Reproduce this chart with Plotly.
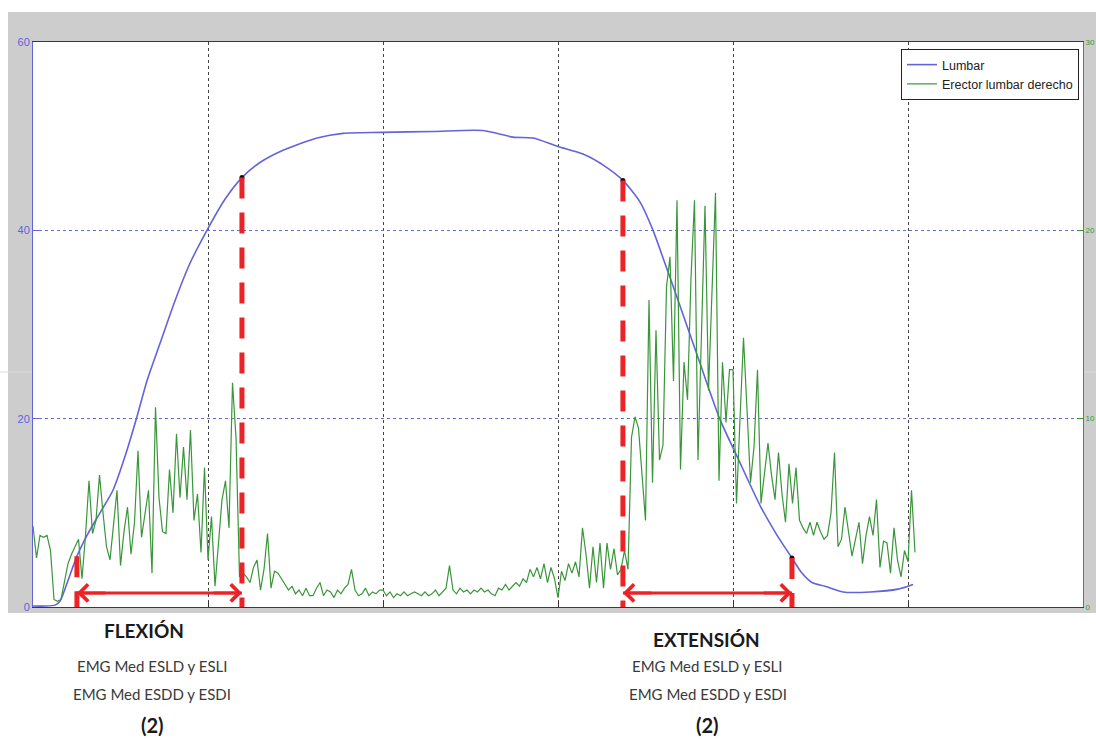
import numpy as np
import plotly.graph_objects as go

# ---------------- data ----------------
# Lumbar angle (left axis, degrees) sampled at irregular times
lumbar_t = [0.000, 0.069, 0.126, 0.154, 0.194, 0.251, 0.314, 0.383, 0.457, 0.526,
            0.594, 0.651, 0.726, 0.811, 0.897, 0.994, 1.097, 1.194, 1.297, 1.429,
            1.623, 1.771, 1.994, 2.286, 2.571, 2.743, 2.857, 3.000, 3.143, 3.269,
            3.371, 3.469, 3.543, 3.611, 3.680, 3.811, 3.926, 4.023, 4.154, 4.246,
            4.337, 4.394, 4.451, 4.526, 4.629, 4.783, 4.943, 5.029]
lumbar_v = [0.1, 0.1, 0.2, 0.6, 2.5, 5.4, 7.8, 10.0, 12.4, 16.0,
            20.2, 24.0, 28.0, 32.5, 36.5, 40.0, 43.3, 45.6, 47.2, 48.5,
            49.8, 50.3, 50.4, 50.5, 50.6, 49.9, 49.8, 48.9, 48.1, 46.8,
            45.3, 43.0, 40.0, 36.5, 32.9, 25.9, 19.9, 16.0, 10.8, 7.8,
            5.2, 3.6, 2.6, 2.2, 1.6, 1.6, 1.9, 2.4]

# Erector lumbar derecho EMG (right axis), one value every 0.02 time units
emg_step = 0.02
emg_v = [
    4.3, 2.6, 3.8, 3.7, 3.8, 3.0, 0.4, 0.3, 0.4, 1.4,
    2.3, 2.8, 3.2, 3.6, 1.5, 3.8, 6.7, 3.9, 4.6, 7.0,
    5.0, 3.2, 2.5, 4.5, 6.2, 2.2, 4.0, 5.3, 2.8, 4.5,
    8.3, 3.7, 5.0, 6.2, 1.8, 10.6, 5.8, 4.0, 3.9, 7.3,
    5.0, 9.2, 5.8, 8.5, 5.7, 9.4, 4.6, 6.0, 2.9, 7.4,
    2.5, 4.8, 1.1, 3.5, 5.7, 6.7, 4.2, 11.9, 9.0, 1.6,
    1.8, 1.6, 1.3, 2.1, 2.5, 0.9, 2.0, 3.9, 1.0, 1.9,
    1.8, 1.5, 1.2, 0.9, 1.1, 0.7, 0.9, 0.6, 1.0, 0.6,
    0.6, 1.0, 1.3, 0.6, 0.9, 0.8, 0.5, 0.9, 0.7, 1.0,
    1.2, 2.0, 0.9, 0.6, 0.7, 1.0, 0.6, 0.8, 0.7, 0.9,
    0.9, 0.6, 0.8, 0.5, 0.7, 0.6, 0.8, 0.6, 0.7, 0.8,
    0.7, 0.6, 0.8, 0.6, 0.7, 0.9, 0.6, 0.8, 1.0, 2.2,
    0.9, 0.7, 1.0, 0.8, 0.9, 0.7, 0.9, 0.8, 1.0, 0.8,
    0.9, 0.7, 0.6, 1.0, 0.9, 1.2, 0.9, 1.1, 1.3, 1.1,
    1.5, 1.3, 2.0, 1.6, 2.1, 1.5, 2.3, 1.3, 2.1, 1.5,
    0.5, 1.9, 1.4, 2.3, 1.8, 2.4, 1.6, 4.2, 2.8, 1.0,
    3.2, 1.3, 3.4, 1.0, 3.4, 2.0, 3.1, 1.7, 2.0, 3.0,
    2.0, 9.0, 10.1, 9.5, 7.0, 4.6, 16.3, 6.6, 14.7, 7.8,
    8.6, 17.0, 18.6, 12.0, 21.6, 7.3, 13.0, 11.0, 17.5, 21.6,
    7.8, 15.0, 21.3, 11.5, 17.0, 22.0, 6.7, 13.0, 9.8, 12.6,
    12.6, 5.5, 10.0, 14.3, 10.5, 6.6, 8.5, 12.6, 5.5, 7.0,
    8.7, 7.0, 5.7, 8.2, 6.0, 4.5, 7.6, 5.5, 7.4, 4.6,
    4.2, 3.9, 4.5, 3.8, 4.5, 4.0, 3.6, 3.8, 5.0, 8.2,
    3.2, 3.6, 5.3, 4.0, 2.7, 3.6, 4.5, 2.3, 3.8, 4.8,
    3.8, 5.7, 2.1, 3.5, 3.4, 1.8, 4.2, 2.5, 1.6, 3.0,
    2.4, 6.2, 2.9,
]
emg_t = np.arange(len(emg_v)) * emg_step

# phase markers (start/end of flexion and extension)
event_t = [0.251, 1.194, 3.371, 4.337]
arrow_level = 1.5
phase_names = ["FLEXIÓN", "EXTENSIÓN"]
phase_title_x = [0.634, 3.851]
phase_sub_x = [0.68, 3.857]
sub_lines = ["EMG Med ESLD y ESLI", "EMG Med ESDD y ESDI", "(2)"]

left_ticks = [0, 20, 40, 60]
right_ticks = [0, 10, 20, 30]
x_grid = [1, 2, 3, 4, 5]

# ---------------- figure ----------------
W, H = 1096, 740
ML, MR, MT, MB = 33, 13, 42, 133
PW, PH = W - ML - MR, H - MT - MB

BLUE = "#6363dc"
GREEN = "#3a963a"
RED = "#ec2326"

fig = go.Figure()
fig.add_trace(go.Scatter(x=lumbar_t, y=lumbar_v, mode="lines", name="Lumbar",
                         line=dict(color=BLUE, width=1.6, shape="spline", smoothing=0.7),
                         yaxis="y"))
fig.add_trace(go.Scatter(x=emg_t, y=emg_v, mode="lines", name="Erector lumbar derecho",
                         line=dict(color=GREEN, width=1.2), yaxis="y2"))

def px_x(p):
    return (p - ML) / PW

def px_y(p):
    return (H - MB - p) / PH

# gray window background around the axes, white axes area on top of it
fig.add_shape(type="rect", xref="paper", yref="paper",
              x0=px_x(8), x1=px_x(1100), y0=px_y(613), y1=px_y(12),
              fillcolor="#cdcdcd", line=dict(width=0), layer="below")
fig.add_shape(type="line", xref="paper", yref="paper",
              x0=px_x(0), x1=px_x(1096), y0=px_y(372), y1=px_y(372),
              line=dict(color="#dadada", width=1), layer="below")
fig.add_shape(type="rect", xref="paper", yref="paper",
              x0=0, x1=1, y0=0, y1=1,
              fillcolor="white", line=dict(width=0), layer="below")

event_top = np.interp(event_t, lumbar_t, lumbar_v)

# red dashed vertical lines from the curve down to zero
for t, top in zip(event_t, event_top):
    fig.add_shape(type="line", xref="x", yref="y", x0=t, x1=t, y0=top, y1=0,
                  line=dict(color=RED, width=5, dash="21px,14px"))

# black dots on the curve
fig.add_trace(go.Scatter(x=event_t[1:], y=event_top[1:], mode="markers",
                         marker=dict(color="#111111", size=5), showlegend=False,
                         hoverinfo="skip", yaxis="y"))

# double-headed arrows
for k in range(2):
    a, b = event_t[2 * k], event_t[2 * k + 1]
    fig.add_shape(type="line", xref="x", yref="y", x0=a, x1=b,
                  y0=arrow_level, y1=arrow_level, line=dict(color=RED, width=3))
    for end, off in ((a, 30), (b, -30)):
        fig.add_annotation(x=end, y=arrow_level, ax=off, ay=0,
                           xref="x", yref="y",
                           showarrow=True, arrowhead=4, arrowsize=1.1,
                           arrowwidth=3, arrowcolor=RED, text="")

# texts below the chart
title_y = [px_y(631), px_y(639)]
for k in range(2):
    fig.add_annotation(x=phase_title_x[k], y=title_y[k], xref="x", yref="paper",
                       text="<b>%s</b>" % phase_names[k], showarrow=False,
                       font=dict(family="Lato", size=19, color="#1a1a1a"),
                       yanchor="middle")
    for line_txt, py, bold in zip(sub_lines, [666, 694, 725], [False, False, True]):
        fig.add_annotation(x=phase_sub_x[k], y=px_y(py), xref="x", yref="paper",
                           text=("<b>%s</b>" % line_txt) if bold else line_txt,
                           showarrow=False, yanchor="middle",
                           font=dict(family="Lato", size=20 if bold else 15,
                                     color="#1a1a1a" if bold else "#3a3a3a"))

fig.update_layout(
    width=W, height=H,
    margin=dict(l=ML, r=MR, t=MT, b=MB, pad=0, autoexpand=False),
    paper_bgcolor="white", plot_bgcolor="white",
    showlegend=True,
    legend=dict(x=px_x(1079), y=px_y(49), xanchor="right", yanchor="top",
                bgcolor="white", bordercolor="#222222", borderwidth=1,
                font=dict(family="Liberation Sans", size=12.5, color="#222222"),
                tracegroupgap=0, itemwidth=30),
    xaxis=dict(range=[0, 6], showticklabels=False, tickvals=x_grid,
               ticks="inside", ticklen=6, tickcolor="#333333", automargin=False,
               showgrid=True, gridcolor="#444444", griddash="dot", gridwidth=1,
               showline=True, linecolor="#3a3a3a", linewidth=1, mirror=True,
               zeroline=False),
    yaxis=dict(range=[0, 60], tickvals=left_ticks, ticks="inside", ticklen=6,
               automargin=False,
               tickcolor=BLUE, tickfont=dict(family="Liberation Sans", size=11, color=BLUE),
               showgrid=True, gridcolor="#6a6ad8", griddash="dot", gridwidth=1,
               showline=True, linecolor=BLUE, linewidth=1, zeroline=False),
    yaxis2=dict(range=[0, 30], tickvals=right_ticks, overlaying="y", side="right",
                ticks="inside", ticklen=6, tickcolor=GREEN, automargin=False,
                ticklabelstandoff=0,
                tickfont=dict(family="Liberation Sans", size=8, color=GREEN),
                showgrid=False, showline=True, linecolor=GREEN, linewidth=1,
                zeroline=False),
)

fig.write_html("out.html")
